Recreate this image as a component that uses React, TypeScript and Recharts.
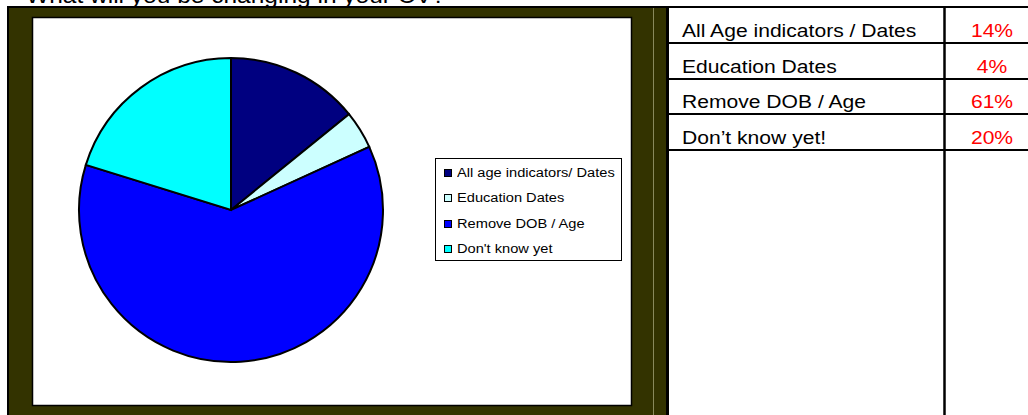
import { PieChart, Pie, Cell, Legend } from 'recharts'

const categories = ['All age indicators/ Dates', 'Education Dates', 'Remove DOB / Age', "Don't know yet"]
const tableLabels = ['All Age indicators / Dates', 'Education Dates', 'Remove DOB / Age', 'Don’t know yet!']
const shares = [14, 4, 61, 20]
const sliceColors = ['#000080', '#CCFFFF', '#0000FF', '#00FFFF']
const title = 'What will you be changing in your CV?'

const data = categories.map((name, i) => ({ name, value: shares[i] }))

const OLIVE = '#333300'
const FONT = '"Liberation Sans", Arial, sans-serif'

// row separator lines of the table on the right
const rowLines = [43, 79, 114, 150]

function LegendBox(props: any) {
  const payload = [...(props.payload || [])].sort(
    (a: any, b: any) => categories.indexOf(a.value) - categories.indexOf(b.value)
  )
  return (
    <div
      style={{
        width: 187,
        height: 103,
        border: '1px solid #000',
        background: '#fff',
        boxSizing: 'border-box',
        paddingTop: 1,
        fontFamily: FONT,
        fontSize: 12.5,
        color: '#000',
      }}
    >
      {payload.map((p: any) => (
        <div key={p.value} style={{ height: 25.5, display: 'flex', alignItems: 'center' }}>
          <span
            style={{
              display: 'inline-block',
              width: 6,
              height: 6,
              marginLeft: 8,
              border: '1px solid #000',
              background: p.color,
            }}
          />
          <span
            style={{
              display: 'inline-block',
              marginLeft: 5,
              transform: 'scaleX(1.17)',
              transformOrigin: 'left center',
              whiteSpace: 'nowrap',
            }}
          >
            {p.value}
          </span>
        </div>
      ))}
    </div>
  )
}

export default function App() {
  return (
    <div
      style={{
        position: 'fixed',
        left: 0,
        top: 0,
        width: 1028,
        height: 415,
        background: '#fff',
        overflow: 'hidden',
      }}
    >
      <svg width={1028} height={415} style={{ position: 'absolute', left: 0, top: 0 }}>
        <text
          transform="translate(26, 2.5) scale(1.14, 1)"
          fontFamily={FONT}
          fontSize={21.5}
          fill="#000"
        >
          {title}
        </text>
        {/* olive frame around the chart */}
        <rect x={7} y={6} width={661} height={420} fill="#000" />
        <rect x={9} y={8} width={657} height={420} fill={OLIVE} />
        <line x1={653.5} y1={8} x2={653.5} y2={415} stroke="#8a8a5c" strokeWidth={1} />
        <rect x={32.5} y={17.5} width={599} height={388} fill="#fff" stroke="#000" strokeWidth={1.5} />

        {/* table */}
        <line x1={666} y1={7} x2={1028} y2={7} stroke="#000" strokeWidth={2} />
        <line x1={667.5} y1={6} x2={667.5} y2={415} stroke="#000" strokeWidth={3} />
        <line x1={944.5} y1={6} x2={944.5} y2={415} stroke="#000" strokeWidth={2.5} />
        {rowLines.map((y) => (
          <line key={y} x1={666} y1={y} x2={1028} y2={y} stroke="#000" strokeWidth={2} />
        ))}
        {tableLabels.map((label, i) => (
          <g key={label}>
            <text
              transform={`translate(682, ${rowLines[i] - 6.5}) scale(1.14, 1)`}
              fontFamily={FONT}
              fontSize={18.5}
              fill="#000"
            >
              {label}
            </text>
            <text
              transform={`translate(992, ${rowLines[i] - 6.5}) scale(1.14, 1)`}
              textAnchor="middle"
              fontFamily={FONT}
              fontSize={18.5}
              fill="#FF0000"
            >
              {`${shares[i]}%`}
            </text>
          </g>
        ))}
      </svg>

      <div style={{ position: 'absolute', left: 33, top: 18 }}>
        <PieChart width={598} height={387} margin={{ top: 0, right: 0, bottom: 0, left: 0 }}>
          <Pie
            data={data}
            dataKey="value"
            nameKey="name"
            cx={198}
            cy={192}
            outerRadius={152}
            startAngle={90}
            endAngle={-270}
            stroke="#000"
            strokeWidth={2}
            label={false}
            labelLine={false}
            isAnimationActive={false}
          >
            {data.map((d, i) => (
              <Cell key={d.name} fill={sliceColors[i]} />
            ))}
          </Pie>
          <Legend
            layout="vertical"
            align="right"
            verticalAlign="middle"
            content={<LegendBox />}
            wrapperStyle={{ left: 402, top: 140, right: 'auto', width: 187 }}
          />
        </PieChart>
      </div>
    </div>
  )
}
